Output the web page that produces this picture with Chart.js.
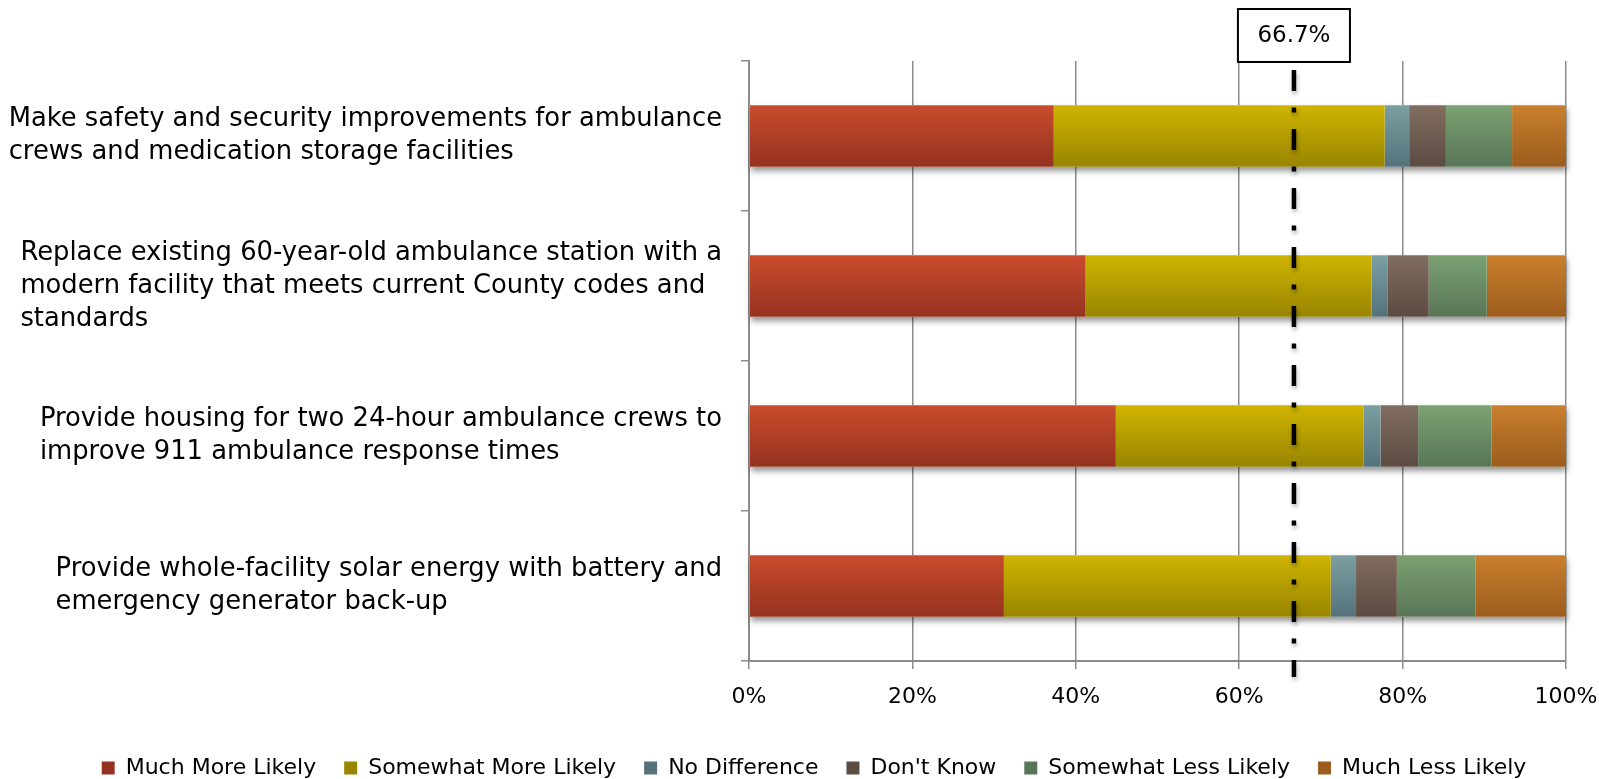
<!DOCTYPE html>
<html>
<head>
<meta charset="utf-8">
<title>Ambulance facility improvements</title>
<script src="https://cdn.jsdelivr.net/npm/chart.js@4.4.1/dist/chart.umd.min.js"></script>
<style>
  html, body { margin: 0; padding: 0; background: #ffffff; overflow: hidden; }
  #wrap { width: 1599px; height: 779px; position: relative; }
</style>
</head>
<body>
<div id="wrap"><canvas id="chart"></canvas></div>
<script>
// Survey items (one array entry per line of the label)
const categories = [
  ["Make safety and security improvements for ambulance", "crews and medication storage facilities"],
  ["Replace existing 60-year-old ambulance station with a", "modern facility that meets current County codes and", "standards"],
  ["Provide housing for two 24-hour ambulance crews to", "improve 911 ambulance response times"],
  ["Provide whole-facility solar energy with battery and", "emergency generator back-up"]
];

// Share of responses (%) per answer
const muchMoreLikely     = [37.3, 41.2, 44.9, 31.2];
const somewhatMoreLikely = [40.5, 35.0, 30.3, 40.0];
const noDifference       = [3.0, 2.0, 2.1, 3.1];
const dontKnow           = [4.5, 5.0, 4.6, 5.0];
const somewhatLessLikely = [8.1, 7.1, 9.0, 9.6];
const muchLessLikely     = [6.6, 9.7, 9.1, 11.1];

const seriesNames = ["Much More Likely", "Somewhat More Likely", "No Difference", "Don't Know", "Somewhat Less Likely", "Much Less Likely"];

// Percentage axis ticks
const xTickValues = [0, 20, 40, 60, 80, 100];

// Two-thirds threshold marker
const thresholdValue = 66.7;
const thresholdLabel = "66.7%";

const FONT = "'DejaVu Sans', sans-serif";
const CAT_PCT = 0.82;
const BAR_PCT = 0.5;

// top / bottom shades for each series
const shades = [
  ["#ca4b2d", "#953320"],
  ["#cfb400", "#998500"],
  ["#7b9fa3", "#55727a"],
  ["#806d5f", "#5c4b41"],
  ["#7ba173", "#597657"],
  ["#ca802d", "#9b5c1d"]
];

function mix(a, b) {
  const pa = parseInt(a.slice(1), 16), pb = parseInt(b.slice(1), 16);
  const r = ((pa >> 16) + (pb >> 16)) >> 1;
  const g = (((pa >> 8) & 255) + ((pb >> 8) & 255)) >> 1;
  const bl = ((pa & 255) + (pb & 255)) >> 1;
  return "rgb(" + r + "," + g + "," + bl + ")";
}

function barFill(top, bottom) {
  return (ctx) => {
    const chart = ctx.chart;
    const yScale = chart.scales && chart.scales.y;
    if (!chart.chartArea || !yScale || ctx.dataIndex === undefined || ctx.type !== 'data') {
      return mix(top, bottom);
    }
    const center = yScale.getPixelForValue(ctx.dataIndex);
    const half = (yScale.height / categories.length) * CAT_PCT * BAR_PCT / 2;
    const g = chart.ctx.createLinearGradient(0, center - half, 0, center + half);
    g.addColorStop(0, top);
    g.addColorStop(1, bottom);
    return g;
  };
}

const seriesValues = [muchMoreLikely, somewhatMoreLikely, noDifference, dontKnow, somewhatLessLikely, muchLessLikely];

const datasets = seriesValues.map((vals, i) => ({
  label: seriesNames[i],
  data: vals,
  backgroundColor: barFill(shades[i][0], shades[i][1]),
  borderWidth: 0,
  categoryPercentage: CAT_PCT,
  barPercentage: BAR_PCT
}));

// soft drop shadow beneath each full stacked bar
const barShadow = {
  id: 'barShadow',
  beforeDatasetsDraw(chart) {
    const first = chart.getDatasetMeta(0);
    const last = chart.getDatasetMeta(chart.data.datasets.length - 1);
    const ctx = chart.ctx;
    ctx.save();
    ctx.shadowColor = 'rgba(0,0,0,0.42)';
    ctx.shadowBlur = 6;
    ctx.shadowOffsetX = 1;
    ctx.shadowOffsetY = 4;
    ctx.fillStyle = '#ffffff';
    first.data.forEach((el, i) => {
      const endEl = last.data[i];
      const left = el.base;
      const right = endEl.x;
      ctx.fillRect(left, el.y - el.height / 2, right - left, el.height);
    });
    ctx.restore();
  }
};

// wrapped category labels: left-aligned lines, block set against the axis
const categoryLabels = {
  id: 'categoryLabels',
  afterDraw(chart) {
    const y = chart.scales.y;
    const ctx = chart.ctx;
    ctx.save();
    ctx.font = "25.8px " + FONT;
    ctx.fillStyle = '#000000';
    ctx.textBaseline = 'middle';
    ctx.textAlign = 'left';
    const lineH = 33;
    const rightEdge = y.right - 27;
    categories.forEach((lines, i) => {
      const cy = y.getPixelForValue(i);
      const w = Math.max(...lines.map(t => ctx.measureText(t).width));
      const x0 = rightEdge - w;
      const y0 = cy - (lines.length - 1) * lineH / 2;
      lines.forEach((t, k) => ctx.fillText(t, x0, y0 + k * lineH));
    });
    ctx.restore();
  }
};

// dash-dot threshold line with its value box
const thresholdLine = {
  id: 'thresholdLine',
  afterDatasetsDraw(chart) {
    const x = chart.scales.x.getPixelForValue(thresholdValue);
    const ctx = chart.ctx;
    ctx.save();
    ctx.strokeStyle = '#000000';
    ctx.lineWidth = 4.5;
    ctx.setLineDash([21, 16.5, 5, 16.5]);
    ctx.shadowColor = 'rgba(0,0,0,0.3)';
    ctx.shadowBlur = 4;
    ctx.shadowOffsetX = 1;
    ctx.shadowOffsetY = 3;
    ctx.beginPath();
    ctx.moveTo(x, chart.chartArea.top + 9);
    ctx.lineTo(x, chart.chartArea.bottom + 16);
    ctx.stroke();
    ctx.restore();
  },
  afterDraw(chart) {
    const x = chart.scales.x.getPixelForValue(thresholdValue);
    const ctx = chart.ctx;
    const w = 112, h = 53, top = 9;
    ctx.save();
    ctx.fillStyle = '#ffffff';
    ctx.fillRect(x - w / 2, top, w, h);
    ctx.strokeStyle = '#000000';
    ctx.lineWidth = 2;
    ctx.strokeRect(x - w / 2, top, w, h);
    ctx.font = "23px " + FONT;
    ctx.fillStyle = '#000000';
    ctx.textAlign = 'center';
    ctx.textBaseline = 'middle';
    ctx.fillText(thresholdLabel, x, top + h / 2 + 1);
    ctx.restore();
  }
};

new Chart(document.getElementById('chart'), {
  type: 'bar',
  data: { labels: categories.map(l => l.join(' ')), datasets },
  options: {
    indexAxis: 'y',
    responsive: true,
    maintainAspectRatio: false,
    animation: false,
    layout: { padding: { top: 61, left: 62, right: 33, bottom: -10 } },
    scales: {
      x: {
        stacked: true,
        min: 0,
        max: 100,
        afterBuildTicks(scale) { scale.ticks = xTickValues.map(v => ({ value: v })); },
        afterFit(scale) {
          scale.height = 68;
          scale.paddingLeft = 0;
          scale.paddingRight = 0;
        },
        ticks: {
          callback: v => v + '%',
          font: { family: FONT, size: 22 },
          color: '#000000',
          padding: 15,
          maxRotation: 0
        },
        grid: { color: '#8c8c8c', lineWidth: 1.5, tickLength: 8, drawTicks: true },
        border: { color: '#8c8c8c', width: 2 }
      },
      y: {
        stacked: true,
        afterFit(scale) { scale.width = 687; },
        ticks: { display: false },
        grid: { drawOnChartArea: false, drawTicks: true, tickLength: 8, color: '#8c8c8c', lineWidth: 1.5, offset: true },
        border: { color: '#8c8c8c', width: 2 }
      }
    },
    plugins: {
      legend: {
        position: 'bottom',
        labels: {
          font: { family: FONT, size: 22 },
          color: '#000000',
          boxWidth: 13,
          boxHeight: 13,
          padding: 28
        }
      },
      tooltip: { enabled: false }
    }
  },
  plugins: [barShadow, categoryLabels, thresholdLine]
});
</script>
</body>
</html>
